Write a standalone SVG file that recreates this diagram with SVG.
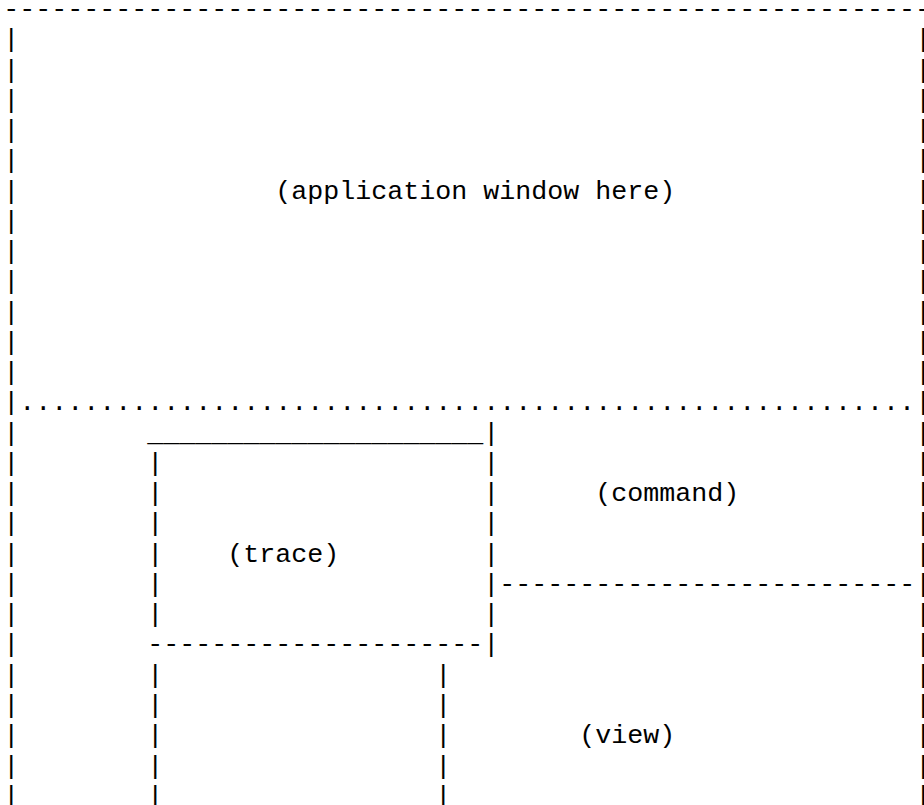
<svg xmlns="http://www.w3.org/2000/svg" width="924" height="805" viewBox="0 0 924 805">
  <style>
    .t { font-family: "Liberation Mono", "DejaVu Sans Mono", monospace; font-size: 26.667px; fill: #000; white-space: pre; }
  </style>
  <rect x="0" y="0" width="924" height="805" fill="#fff"/>

  <!-- character grid: column c at x = 3.3 + 16c, row r baseline at y = 17 + 30.26r -->

  <!-- upper pane: application window -->
  <g id="app-window">
    <text class="t" x="3.3" y="17">----------------------------------------------------------</text>
    <text class="t">
      <tspan x="3.3" y="47.26">|</tspan><tspan x="3.3" y="77.52">|</tspan><tspan x="3.3" y="107.78">|</tspan>
      <tspan x="3.3" y="138.04">|</tspan><tspan x="3.3" y="168.3">|</tspan><tspan x="3.3" y="198.56">|</tspan>
      <tspan x="3.3" y="228.82">|</tspan><tspan x="3.3" y="259.08">|</tspan><tspan x="3.3" y="289.34">|</tspan>
      <tspan x="3.3" y="319.6">|</tspan><tspan x="3.3" y="349.86">|</tspan><tspan x="3.3" y="380.12">|</tspan>
      <tspan x="3.3" y="410.38">|</tspan>
    </text>
    <text class="t">
      <tspan x="915.3" y="47.26">|</tspan><tspan x="915.3" y="77.52">|</tspan><tspan x="915.3" y="107.78">|</tspan>
      <tspan x="915.3" y="138.04">|</tspan><tspan x="915.3" y="168.3">|</tspan><tspan x="915.3" y="198.56">|</tspan>
      <tspan x="915.3" y="228.82">|</tspan><tspan x="915.3" y="259.08">|</tspan><tspan x="915.3" y="289.34">|</tspan>
      <tspan x="915.3" y="319.6">|</tspan><tspan x="915.3" y="349.86">|</tspan><tspan x="915.3" y="380.12">|</tspan>
      <tspan x="915.3" y="410.38">|</tspan>
    </text>
    <text class="t" x="275.3" y="198.56">(application window here)</text>
    <!-- dotted separator between upper and lower panes -->
    <text class="t" x="19.3" y="410.38">........................................................</text>
  </g>

  <!-- lower pane outer frame -->
  <g id="lower-frame">
    <text class="t">
      <tspan x="3.3" y="440.64">|</tspan><tspan x="3.3" y="470.9">|</tspan><tspan x="3.3" y="501.16">|</tspan>
      <tspan x="3.3" y="531.42">|</tspan><tspan x="3.3" y="561.68">|</tspan><tspan x="3.3" y="591.94">|</tspan>
      <tspan x="3.3" y="622.2">|</tspan><tspan x="3.3" y="652.46">|</tspan><tspan x="3.3" y="682.72">|</tspan>
      <tspan x="3.3" y="712.98">|</tspan><tspan x="3.3" y="743.24">|</tspan><tspan x="3.3" y="773.5">|</tspan>
      <tspan x="3.3" y="803.76">|</tspan>
    </text>
    <text class="t">
      <tspan x="915.3" y="440.64">|</tspan><tspan x="915.3" y="470.9">|</tspan><tspan x="915.3" y="501.16">|</tspan>
      <tspan x="915.3" y="531.42">|</tspan><tspan x="915.3" y="561.68">|</tspan><tspan x="915.3" y="591.94">|</tspan>
      <tspan x="915.3" y="622.2">|</tspan><tspan x="915.3" y="652.46">|</tspan><tspan x="915.3" y="682.72">|</tspan>
      <tspan x="915.3" y="712.98">|</tspan><tspan x="915.3" y="743.24">|</tspan><tspan x="915.3" y="773.5">|</tspan>
      <tspan x="915.3" y="803.76">|</tspan>
    </text>
  </g>

  <!-- trace box -->
  <g id="trace">
    <text class="t" x="147.3" y="440.64">_____________________</text>
    <text class="t">
      <tspan x="147.3" y="470.9">|</tspan><tspan x="147.3" y="501.16">|</tspan><tspan x="147.3" y="531.42">|</tspan>
      <tspan x="147.3" y="561.68">|</tspan><tspan x="147.3" y="591.94">|</tspan><tspan x="147.3" y="622.2">|</tspan>
    </text>
    <text class="t">
      <tspan x="483.3" y="440.64">|</tspan><tspan x="483.3" y="470.9">|</tspan><tspan x="483.3" y="501.16">|</tspan>
      <tspan x="483.3" y="531.42">|</tspan><tspan x="483.3" y="561.68">|</tspan><tspan x="483.3" y="591.94">|</tspan>
      <tspan x="483.3" y="622.2">|</tspan><tspan x="483.3" y="652.46">|</tspan>
    </text>
    <text class="t" x="227.3" y="561.68">(trace)</text>
    <text class="t" x="147.3" y="652.46">---------------------</text>
  </g>

  <!-- command pane -->
  <g id="command">
    <text class="t" x="595.3" y="501.16">(command)</text>
    <text class="t" x="499.3" y="591.94">--------------------------</text>
  </g>

  <!-- view pane -->
  <g id="view">
    <text class="t">
      <tspan x="147.3" y="682.72">|</tspan><tspan x="147.3" y="712.98">|</tspan><tspan x="147.3" y="743.24">|</tspan>
      <tspan x="147.3" y="773.5">|</tspan><tspan x="147.3" y="803.76">|</tspan>
    </text>
    <text class="t">
      <tspan x="435.3" y="682.72">|</tspan><tspan x="435.3" y="712.98">|</tspan><tspan x="435.3" y="743.24">|</tspan>
      <tspan x="435.3" y="773.5">|</tspan><tspan x="435.3" y="803.76">|</tspan>
    </text>
    <text class="t" x="579.3" y="743.24">(view)</text>
  </g>

  <!-- no connectors between panes -->
  <g id="connectors"/>
</svg>
